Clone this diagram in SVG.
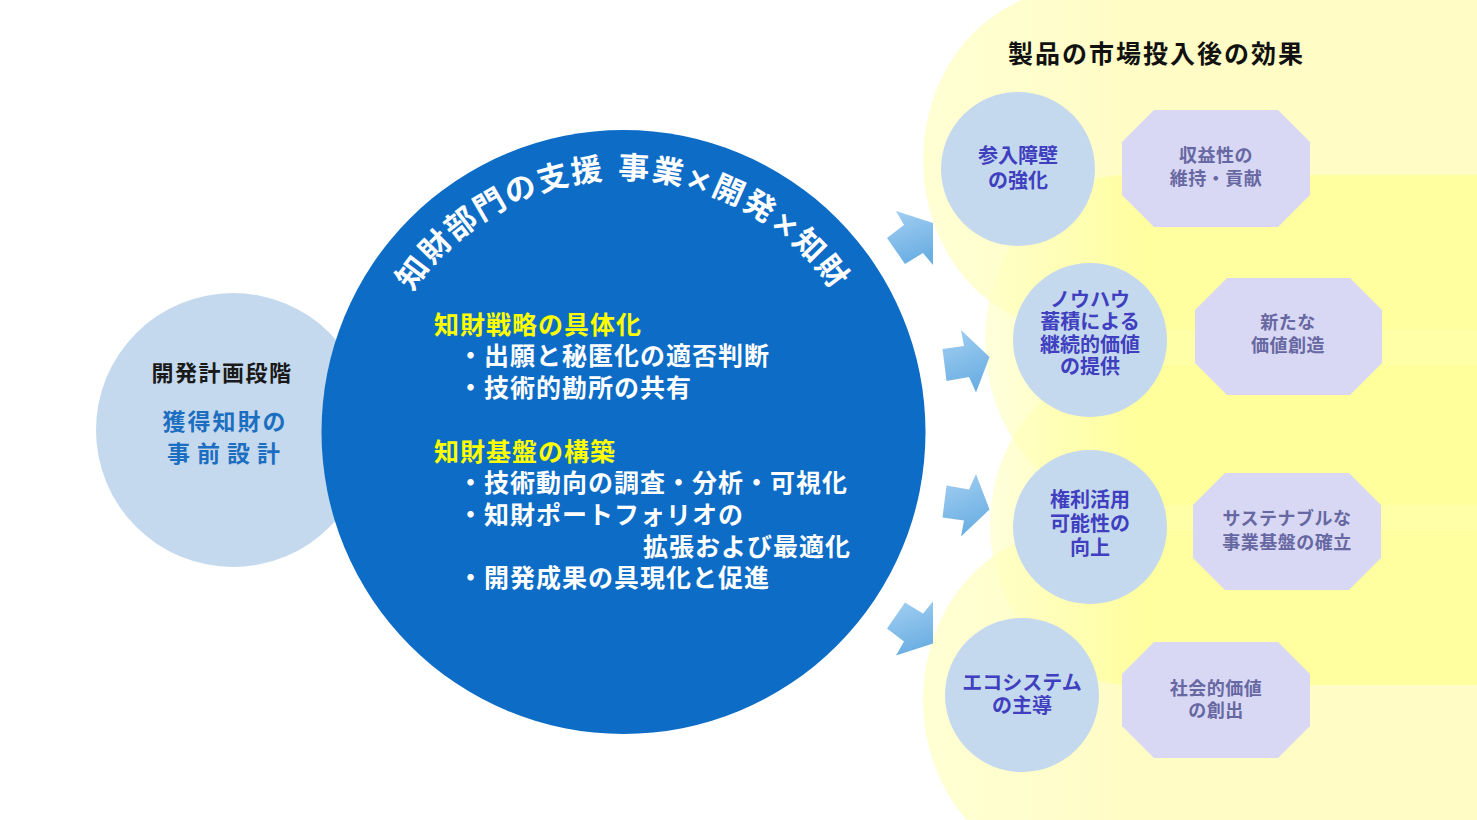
<svg xmlns="http://www.w3.org/2000/svg" width="1477" height="820" viewBox="0 0 1477 820">
<defs>
<style>
.t{font-family:'Liberation Sans','Noto Sans CJK JP',sans-serif;font-weight:bold}
.arch{font-family:'DejaVu Sans','Noto Sans CJK JP',sans-serif;font-weight:bold;font-size:31px;letter-spacing:2px;fill:#FFFFFF}
.c{text-anchor:middle}
.wt{fill:#FFFFFF;font-size:25px;letter-spacing:1px}
.yh{fill:#FFFF00;font-size:25px;letter-spacing:1px}
.ct{fill:#3F3FBF;font-size:20px;text-anchor:middle}
.ot{fill:#6767A2;font-size:18px;text-anchor:middle;letter-spacing:0.5px}
.rc{fill:#C5D9EE}
.oc{fill:#D8D8F4}
.arr{fill:url(#arrG)}
</style>
<linearGradient id="lightG" gradientUnits="userSpaceOnUse" x1="920" y1="0" x2="1120" y2="0">
<stop offset="0" stop-color="#FFFFD4"/>
<stop offset="1" stop-color="#FFFCC6"/>
</linearGradient>
<linearGradient id="strongG" gradientUnits="userSpaceOnUse" x1="985" y1="0" x2="1140" y2="0">
<stop offset="0" stop-color="#FFFFC4" stop-opacity="0.6"/>
<stop offset="1" stop-color="#FFFF99" stop-opacity="0.85"/>
</linearGradient>
<linearGradient id="arrG" x1="0" y1="0" x2="0.3" y2="1">
<stop offset="0" stop-color="#A4D0F2"/>
<stop offset="1" stop-color="#6CAFE3"/>
</linearGradient>
<path id="arcTitle" d="M 370,432 A 253 253 0 0 1 876,432"/>
</defs>
<rect x="0" y="0" width="1477" height="820" fill="#FFFFFF"/>

<g id="background-bands">
<path d="M 1477,-10 H 1073 A 150 170 0 0 0 1073,330 H 1477 Z" fill="url(#lightG)"/>
<path d="M 1477,530 H 1073 A 150 170 0 0 0 1073,870 H 1477 Z" fill="url(#lightG)"/>
<path d="M 1477,175 H 1125 A 140 165 0 0 0 1125,505 H 1477 Z" fill="url(#strongG)"/>
<path d="M 1477,365 H 1130 A 140 160 0 0 0 1130,685 H 1477 Z" fill="url(#strongG)"/>
</g>

<g id="node-plan">
<circle cx="233" cy="430" r="137" class="rc"/>
<text class="t c" x="222" y="381" font-size="22" letter-spacing="1.5" fill="#1A1A1A">開発計画段階</text>
<text class="t c" x="225" y="430" font-size="23" letter-spacing="2" fill="#1C6EC0">獲得知財の</text>
<text class="t c" x="227" y="462" font-size="23" letter-spacing="7" fill="#1C6EC0">事前設計</text>
</g>

<g id="node-ip-support">
<circle cx="623.5" cy="432" r="302" fill="#0C6CC6"/>
<text class="arch"><textPath href="#arcTitle" startOffset="50%" text-anchor="middle">知財部門の支援 事業×開発×知財</textPath></text>
<text class="t yh" x="434" y="334">知財戦略の具体化</text>
<text class="t wt" x="458" y="365">・出願と秘匿化の適否判断</text>
<text class="t wt" x="458" y="397">・技術的勘所の共有</text>
<text class="t yh" x="434" y="461">知財基盤の構築</text>
<text class="t wt" x="458" y="492">・技術動向の調査・分析・可視化</text>
<text class="t wt" x="458" y="524">・知財ポートフォリオの</text>
<text class="t wt" x="851" y="556" text-anchor="end">拡張および最適化</text>
<text class="t wt" x="458" y="587">・開発成果の具現化と促進</text>
</g>

<g id="connectors">
<polygon class="arr" points="896,211 933,223 933,265 923,253 905,264 887,238 904,225"/>
<polygon class="arr" points="942.5,349 964,346 961,330 989.5,357 976,392.5 969,377 946.5,381"/>
<polygon class="arr" points="942.5,517.5 964,520.5 961,536.5 989.5,509.5 976,474 969,489.5 946.5,485.5"/>
<polygon class="arr" points="896,655.5 933,643.5 933,601.5 923,613.5 905,602.5 887,628.5 904,641.5"/>
</g>

<g id="title-effects">
<text class="t" x="1008" y="63" font-size="25" letter-spacing="2" fill="#111111">製品の市場投入後の効果</text>
</g>

<g id="node-barrier">
<circle cx="1018" cy="169" r="77" class="rc"/>
<text class="t ct" x="1018" y="163">参入障壁</text>
<text class="t ct" x="1018" y="188">の強化</text>
</g>
<g id="node-profit">
<polygon class="oc" points="1154,110 1278,110 1310,142 1310,195 1278,227 1154,227 1122,195 1122,142"/>
<text class="t ot" x="1216" y="162">収益性の</text>
<text class="t ot" x="1216" y="185">維持・貢献</text>
</g>

<g id="node-knowhow">
<circle cx="1090" cy="340" r="77" class="rc"/>
<text class="t ct" x="1090" y="307" font-size="19">ノウハウ</text>
<text class="t ct" x="1090" y="329" font-size="19">蓄積による</text>
<text class="t ct" x="1090" y="352" font-size="19">継続的価値</text>
<text class="t ct" x="1090" y="374" font-size="19">の提供</text>
</g>
<g id="node-newvalue">
<polygon class="oc" points="1227,278 1350,278 1382,310 1382,363 1350,395 1227,395 1195,363 1195,310"/>
<text class="t ot" x="1288" y="329">新たな</text>
<text class="t ot" x="1288" y="352">価値創造</text>
</g>

<g id="node-rights">
<circle cx="1090" cy="527" r="77" class="rc"/>
<text class="t ct" x="1090" y="507">権利活用</text>
<text class="t ct" x="1090" y="531">可能性の</text>
<text class="t ct" x="1090" y="555">向上</text>
</g>
<g id="node-sustainable">
<polygon class="oc" points="1225,473 1349,473 1381,505 1381,558 1349,590 1225,590 1193,558 1193,505"/>
<text class="t ot" x="1287" y="525">サステナブルな</text>
<text class="t ot" x="1287" y="549">事業基盤の確立</text>
</g>

<g id="node-ecosystem">
<circle cx="1022" cy="695" r="77" class="rc"/>
<text class="t ct" x="1022" y="690">エコシステム</text>
<text class="t ct" x="1022" y="713">の主導</text>
</g>
<g id="node-social">
<polygon class="oc" points="1154,642 1278,642 1310,674 1310,726 1278,758 1154,758 1122,726 1122,674"/>
<text class="t ot" x="1216" y="695">社会的価値</text>
<text class="t ot" x="1216" y="717">の創出</text>
</g>
</svg>
